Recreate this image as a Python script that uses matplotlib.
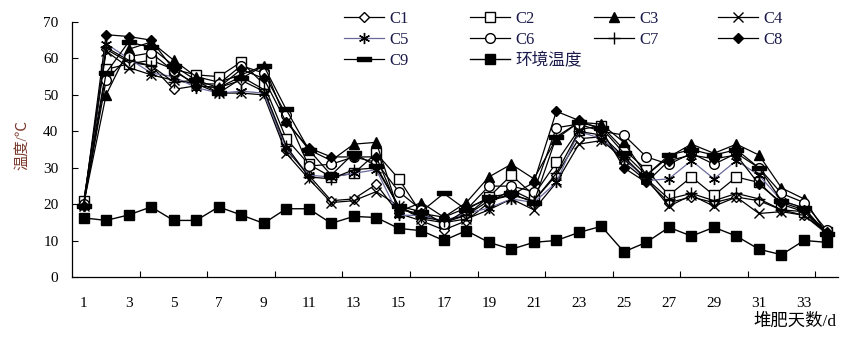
import numpy as np
import matplotlib
matplotlib.use('Agg')
import matplotlib.pyplot as plt

plt.rcParams['font.family'] = ['Liberation Serif', 'Noto Sans CJK SC']

days = np.arange(1, 35)

c1 = [20.5, 62.5, 59, 58, 51.5, 52.5, 52, 54, 51, 35, 28, 21, 21.5, 25.5, 17.5, 15.5, 13, 15.5, 20.5, 24, 21, 28, 38, 38.5, 31.5, 26.5, 20.5, 22, 20.5, 22, 21, 18.5, 17, 12.5]
c2 = [21, 57, 58.5, 59.5, 57, 55.5, 55, 59, 53, 38, 31, 27.5, 28.5, 34, 27, 17.5, 15, 17, 22, 28, 22.5, 31.5, 40.5, 41.5, 35, 29.5, 22.5, 27.5, 22.5, 27.5, 26, 20, 18, 12.5]
c3 = [20, 50, 62.5, 64.5, 59.5, 55, 53.5, 55.5, 58, 43, 35, 32, 36.5, 37, 18, 20.5, 16.5, 20.5, 27.5, 31, 27, 38, 42.5, 42, 37, 28, 33, 36.5, 34, 36.5, 33.5, 24.5, 21.5, 12]
c4 = [19.5, 62, 57.5, 55.5, 54, 53, 50.5, 50.5, 50, 34, 27, 20.5, 21, 23.5, 19.5, 16, 15, 16, 18.5, 21.5, 18.5, 26, 36.5, 37.5, 32.5, 27, 19.5, 22.5, 19.5, 22, 17.5, 18, 17, 12]
c5 = [19.5, 64, 60, 56, 55, 52, 50.5, 51, 50.5, 35.5, 28, 27.5, 28.5, 29.5, 17, 17, 15.5, 17.5, 19, 21.5, 20.5, 26, 40, 38, 33, 26.5, 27, 32, 27, 32, 28, 21, 19, 12]
c6 = [20, 54, 60.5, 61.5, 56.5, 53, 53, 58, 56, 44.5, 30.5, 31, 33, 31.5, 23.5, 18.5, 14.5, 18.5, 25, 25, 23.5, 41, 42, 40, 39, 33, 31, 34, 31, 34, 30, 23, 20.5, 13]
c7 = [20, 63, 59.5, 58, 53.5, 54, 52, 55, 51.5, 36, 27.5, 27, 29.5, 30, 19.5, 16.5, 15.5, 17, 21, 22.5, 21, 28.5, 40, 39, 33, 27, 21.5, 23, 21, 23, 21.5, 18.5, 18, 12]
c8 = [19.5, 66.5, 66, 65, 57, 52.5, 52, 57, 54.5, 42.5, 35.5, 33, 33, 33, 18.5, 17.5, 16.5, 19, 21.5, 22.5, 26, 45.5, 43, 40.5, 30, 26, 32, 33.5, 32.5, 33.5, 25.5, 20.5, 18.5, 12.5]
c9 = [19.5, 56, 64.5, 63, 58, 54, 50.5, 54.5, 58, 46, 35, 28, 34, 30.5, 19.5, 18, 23, 18.5, 22, 23, 20.5, 38.5, 42.5, 41, 34, 28, 33.5, 35, 33.5, 35, 30, 21, 19, 12]
ambient = [16.3, 15.6, 17.1, 19.3, 15.6, 15.6, 19.3, 17.1, 14.8, 18.8, 18.8, 14.8, 16.7, 16.4, 13.4, 12.8, 10.1, 12.8, 9.6, 7.7, 9.6, 10.1, 12.3, 14.0, 7.0, 9.6, 13.7, 11.3, 13.7, 11.3, 7.7, 6.2, 10.1, 9.6]

names = ['C1', 'C2', 'C3', 'C4', 'C5', 'C6', 'C7', 'C8', 'C9']
series = [c1, c2, c3, c4, c5, c6, c7, c8, c9]

bar = [(-1, -0.35), (1, -0.35), (1, 0.35), (-1, 0.35), (-1, -0.35)]
styles = {
    'C1': dict(marker='D', ms=5.5, mfc='white', mec='black', color='black'),
    'C2': dict(marker='s', ms=6.5, mfc='white', mec='black', color='black'),
    'C3': dict(marker='^', ms=7, mfc='black', mec='black', color='black'),
    'C4': dict(marker='x', ms=7, mec='black', mew=1.0, color='black'),
    'C5': dict(marker=(6, 2, 0), ms=8, mec='black', mew=1.0, color='#6a6a9a'),
    'C6': dict(marker='o', ms=7, mfc='white', mec='black', color='black'),
    'C7': dict(marker='+', ms=9, mec='black', mew=1.0, color='black'),
    'C8': dict(marker='D', ms=5.5, mfc='black', mec='black', color='black'),
    'C9': dict(marker=bar, ms=10, mfc='black', mec='black', color='black'),
}

fig = plt.figure(figsize=(8.54, 3.37), dpi=100)
ax = fig.add_axes([0.0847, 0.177, 0.8963, 0.758])

lines = {}
for n, s in zip(names, series):
    ln, = ax.plot(days, s, lw=0.9, **styles[n])
    lines[n] = ln
ln, = ax.plot(days, ambient, color='black', lw=1.0, marker='s', ms=7.5,
              mfc='black', mec='black')
lines['环境温度'] = ln

ax.set_xlim(0.5, 34.5)
ax.set_ylim(0, 70)
ax.set_yticks(range(0, 71, 10))
ax.set_xticks(range(1, 34, 2))
ax.set_xticks(np.arange(3.5, 34, 3), minor=True)
ax.tick_params(axis='x', which='major', length=0, pad=14, labelsize=11)
ax.tick_params(axis='x', which='minor', direction='in', length=4.5, width=0.8)
ax.tick_params(axis='y', direction='in', length=4.5, width=0.8, pad=10, labelsize=11)

for sp in ['top', 'right']:
    ax.spines[sp].set_visible(False)
for sp in ['left', 'bottom']:
    ax.spines[sp].set_linewidth(0.9)

fig.text(0.026, 0.57, '温度/℃', rotation=90, ha='center', va='center',
         fontsize=11, color='#7a3b2e')
fig.text(0.979, 0.045, '堆肥天数/d', ha='right', va='center', fontsize=12.5)

# legend: one column each, so the columns sit at fixed positions
columns = [['C1', 'C5', 'C9'], ['C2', 'C6', '环境温度'], ['C3', 'C7'], ['C4', 'C8']]
col_x = [344, 470, 594, 718]
for keys, x in zip(columns, col_x):
    leg = fig.legend([lines[k] for k in keys], keys, ncol=1,
                     loc='upper left', bbox_to_anchor=(x / 854, 0.968),
                     borderaxespad=0, frameon=False, fontsize=12,
                     handlelength=2.4, handletextpad=0.3, labelspacing=0.3,
                     borderpad=0)
    for t in leg.get_texts():
        t.set_color('#1b1b4b')

fig.savefig('out.png', dpi=100)
